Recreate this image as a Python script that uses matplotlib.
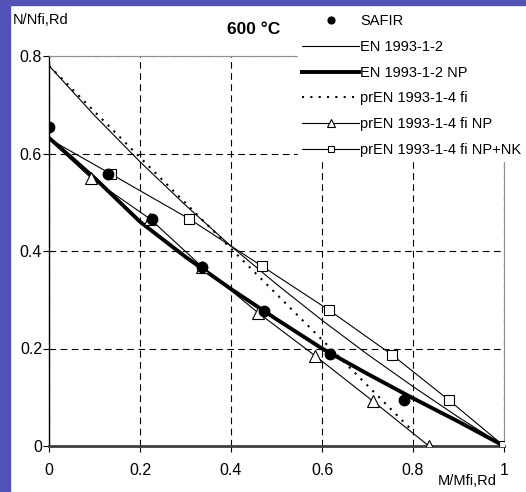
import matplotlib.pyplot as plt
from matplotlib.patches import Rectangle

plt.rcParams['font.family'] = ['Liberation Sans', 'DejaVu Sans']

# SAFIR results
safir_m = [0.0, 0.13, 0.227, 0.336, 0.473, 0.617, 0.781]
safir_n = [0.655, 0.558, 0.466, 0.368, 0.277, 0.189, 0.095]

# EN 1993-1-2
en_m = [0.0, 0.1, 0.2, 0.3, 0.4, 0.5, 0.6, 0.7, 0.8, 0.9, 1.0]
en_n = [0.78, 0.678, 0.583, 0.494, 0.41, 0.332, 0.258, 0.188, 0.122, 0.059, 0.0]

# EN 1993-1-2 NP
ennp_m = [0.0, 0.1, 0.2, 0.3, 0.4, 0.5, 0.6, 0.7, 0.8, 0.9, 1.0]
ennp_n = [0.632, 0.55, 0.46, 0.388, 0.322, 0.26, 0.2, 0.148, 0.098, 0.05, 0.0]

# prEN 1993-1-4 fi
pr_m = [0.0, 0.2, 0.4, 0.6, 0.8]
pr_n = [0.78, 0.592, 0.405, 0.218, 0.03]

# prEN 1993-1-4 fi NP
prnp_m = [0.0, 0.092, 0.222, 0.336, 0.46, 0.585, 0.712, 0.835]
prnp_n = [0.63, 0.55, 0.466, 0.368, 0.273, 0.185, 0.092, 0.0]

# prEN 1993-1-4 fi NP+NK
prnk_m = [0.0, 0.136, 0.308, 0.468, 0.615, 0.754, 0.879, 1.0]
prnk_n = [0.63, 0.558, 0.466, 0.369, 0.279, 0.187, 0.094, 0.0]

fig = plt.figure(figsize=(5.26, 4.92), dpi=100)
fig.patches.append(Rectangle((0, 0), 10 / 526, 1, transform=fig.transFigure,
                             color='#5252b6', zorder=-1))
fig.patches.append(Rectangle((0, 1 - 5 / 492), 1, 5 / 492, transform=fig.transFigure,
                             color='#5252b6', zorder=-1))

ax = fig.add_axes([49 / 526, 46 / 492, 455 / 526, 390 / 492])

ax.plot(en_m, en_n, color='black', lw=0.8, label='EN 1993-1-2', zorder=3)
ax.plot(ennp_m, ennp_n, color='black', lw=2.8, label='EN 1993-1-2 NP', zorder=3)
ax.plot(pr_m, pr_n, color='black', lw=1.5, linestyle=(0, (1, 3)),
        label='prEN 1993-1-4 fi', zorder=3)
ax.plot(prnp_m, prnp_n, color='black', lw=0.8, marker='^', ms=8, mfc='white',
        mec='black', mew=0.8, markevery=list(range(1, len(prnp_m))),
        label='prEN 1993-1-4 fi NP', zorder=3)
ax.plot(prnk_m, prnk_n, color='black', lw=0.8, marker='s', ms=7.5, mfc='white',
        mec='black', mew=0.8, markevery=list(range(1, len(prnk_m))),
        label='prEN 1993-1-4 fi NP+NK', zorder=3)
ax.plot(safir_m, safir_n, linestyle='none', marker='o', ms=7.5, color='black',
        label='SAFIR', zorder=4)

ax.set_xlim(0, 1)
ax.set_ylim(0, 0.8)
ax.set_xticks([0, 0.2, 0.4, 0.6, 0.8, 1])
ax.set_xticklabels(['0', '0.2', '0.4', '0.6', '0.8', '1'])
ax.set_yticks([0, 0.2, 0.4, 0.6, 0.8])
ax.set_yticklabels(['0', '0.2', '0.4', '0.6', '0.8'])
ax.tick_params(direction='out', length=4, width=0.8, labelsize=11.5)
ax.tick_params(axis='x', pad=8)
ax.tick_params(axis='y', pad=1)
ax.grid(True, color='black', linestyle=(0, (6, 4)), linewidth=0.8)

ax.spines['left'].set_color('black')
ax.spines['left'].set_linewidth(1)
ax.spines['bottom'].set_color('#404040')
ax.spines['bottom'].set_linewidth(2)
ax.spines['top'].set_color('#909090')
ax.spines['right'].set_color('#909090')

fig.text(13 / 526, 1 - 20 / 492, 'N/Nfi,Rd', fontsize=10.5, ha='left', va='center')
fig.text(254 / 526, 1 - 30 / 492, '600 °C', fontsize=12.5, fontweight='bold',
         ha='center', va='center')
fig.text(497 / 526, 1 - 481 / 492, 'M/Mfi,Rd', fontsize=10.5, ha='right', va='center')

handles, labels = ax.get_legend_handles_labels()
order = [5, 0, 1, 2, 3, 4]
leg = fig.legend([handles[i] for i in order], [labels[i] for i in order],
                 loc='upper left', bbox_to_anchor=(298 / 526, 1 - 10 / 492),
                 fontsize=10.5, frameon=True, fancybox=False, framealpha=1,
                 facecolor='white', edgecolor='white', handlelength=3.9,
                 handletextpad=0.08, labelspacing=0.8, markerscale=0.65,
                 borderpad=0.3, borderaxespad=0)
leg.set_zorder(10)

plt.savefig('out.png', dpi=100)
